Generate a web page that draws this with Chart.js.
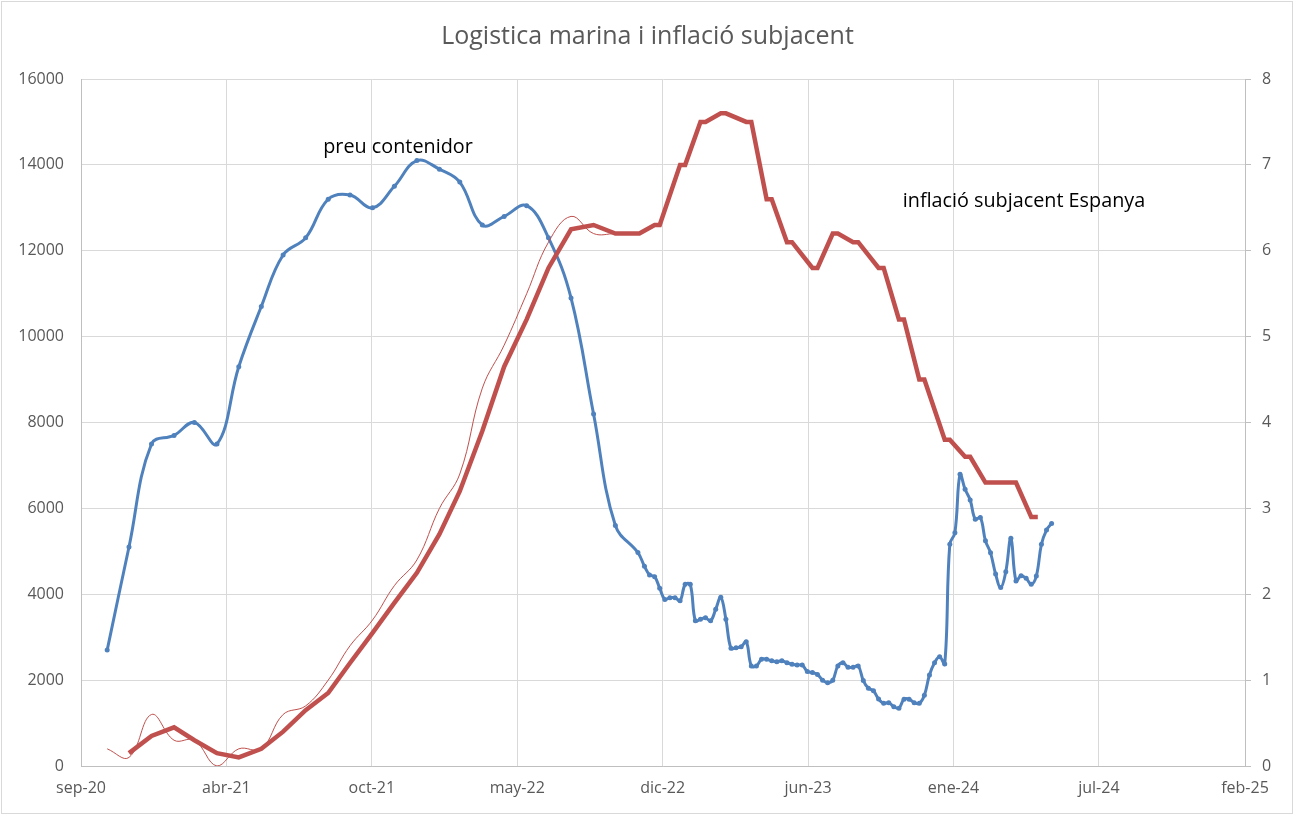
<!DOCTYPE html>
<html lang="ca">
<head>
<meta charset="utf-8">
<title>Logistica marina i inflació subjacent</title>
<script src="https://cdn.jsdelivr.net/npm/chart.js@4.4.1/dist/chart.umd.min.js"></script>
<style>
    html, body { margin: 0; padding: 0; background: #fff; }
    #wrap { width: 1295px; height: 816px; }
</style>
</head>
<body>
<div id="wrap"><canvas id="chart" width="1295" height="816"></canvas></div>
<script>
// Axis labels
const monthsEs = ['ene', 'feb', 'mar', 'abr', 'may', 'jun', 'jul', 'ago', 'sep', 'oct', 'nov', 'dic'];
const xTickDates = ['2020-09-26', '2021-04-14', '2021-10-31', '2022-05-19', '2022-12-05',
                    '2023-06-23', '2024-01-09', '2024-07-27', '2025-02-13'];

// Container price (left axis): monthly until Nov-22, then weekly
const containerDates = [
    '2020-11-01', '2020-12-01', '2021-01-01', '2021-02-01', '2021-03-01', '2021-04-01', '2021-05-01',
    '2021-06-01', '2021-07-01', '2021-08-01', '2021-09-01', '2021-10-01', '2021-11-01', '2021-12-01',
    '2022-01-01', '2022-02-01', '2022-03-01', '2022-04-01', '2022-05-01', '2022-06-01', '2022-07-01',
    '2022-08-01', '2022-09-01', '2022-10-01', '2022-11-01',
    '2022-11-10', '2022-11-17', '2022-11-24', '2022-12-01', '2022-12-08', '2022-12-15', '2022-12-22', '2022-12-29',
    '2023-01-05', '2023-01-12', '2023-01-19', '2023-01-26', '2023-02-02', '2023-02-09', '2023-02-16', '2023-02-23',
    '2023-03-02', '2023-03-09', '2023-03-16', '2023-03-23', '2023-03-30', '2023-04-06', '2023-04-13', '2023-04-20',
    '2023-04-27', '2023-05-04', '2023-05-11', '2023-05-18', '2023-05-25', '2023-06-01', '2023-06-08', '2023-06-15',
    '2023-06-22', '2023-06-29', '2023-07-06', '2023-07-13', '2023-07-20', '2023-07-27', '2023-08-03', '2023-08-10',
    '2023-08-17', '2023-08-24', '2023-08-31', '2023-09-07', '2023-09-14', '2023-09-21', '2023-09-28', '2023-10-05',
    '2023-10-12', '2023-10-19', '2023-10-26', '2023-11-02', '2023-11-09', '2023-11-16', '2023-11-23', '2023-11-30',
    '2023-12-07', '2023-12-14', '2023-12-21', '2023-12-28', '2024-01-04', '2024-01-11', '2024-01-18', '2024-01-25',
    '2024-02-01', '2024-02-08', '2024-02-15', '2024-02-22', '2024-02-29', '2024-03-07', '2024-03-14', '2024-03-21',
    '2024-03-28', '2024-04-04', '2024-04-11', '2024-04-18', '2024-04-25', '2024-05-02', '2024-05-09', '2024-05-16',
    '2024-05-23'
];
const containerPrice = [
    2700, 5100, 7500, 7700, 8000, 7500, 9300, 10700, 11900, 12300, 13200, 13300, 13000, 13500,
    14100, 13900, 13600, 12600, 12800, 13050, 12300, 10900, 8200, 5600, 4970,
    4650, 4450, 4410, 4140, 3880, 3920, 3920, 3850,
    4230, 4230, 3380, 3420, 3450, 3380, 3650, 3930,
    3420, 2740, 2755, 2780, 2895, 2330, 2330, 2485,
    2485, 2450, 2430, 2450, 2405, 2370, 2350, 2350,
    2200, 2175, 2130, 2000, 1940, 2000, 2330, 2405,
    2300, 2300, 2330, 1990, 1810, 1750, 1560, 1460,
    1475, 1380, 1345, 1555, 1555, 1475, 1460, 1650,
    2120, 2405, 2545, 2375, 5165, 5435, 6795, 6445,
    6195, 5745, 5790, 5245, 4965, 4470, 4155, 4525,
    5305, 4310, 4430, 4370, 4230, 4425, 5165, 5495,
    5650
];

// Core inflation Spain (right axis), thick line
const coreDates = [
    '2020-12-01', '2021-01-01', '2021-02-01', '2021-03-01', '2021-04-01', '2021-05-01', '2021-06-01',
    '2021-07-01', '2021-08-01', '2021-09-01', '2021-10-01', '2021-11-01', '2021-12-01', '2022-01-01',
    '2022-02-01', '2022-03-01', '2022-04-01', '2022-05-01', '2022-06-01', '2022-07-01', '2022-08-01',
    '2022-09-01', '2022-10-01', '2022-11-03', '2022-11-24', '2022-12-01', '2022-12-29', '2023-01-05',
    '2023-01-26', '2023-02-02', '2023-02-23', '2023-03-02', '2023-03-30', '2023-04-06', '2023-04-27',
    '2023-05-04', '2023-05-25', '2023-06-01', '2023-06-29', '2023-07-06', '2023-07-27', '2023-08-03',
    '2023-08-24', '2023-08-31', '2023-09-28', '2023-10-05', '2023-10-26', '2023-11-02', '2023-11-23',
    '2023-11-30', '2023-12-28', '2024-01-04', '2024-01-25', '2024-02-01', '2024-02-22', '2024-04-04',
    '2024-04-25', '2024-05-04'
];
const coreInflation = [
    0.15, 0.35, 0.45, 0.3, 0.15, 0.1, 0.2,
    0.4, 0.65, 0.85, 1.2, 1.55, 1.9, 2.25,
    2.7, 3.2, 3.9, 4.65, 5.2, 5.8, 6.25,
    6.3, 6.2, 6.2, 6.3, 6.3, 7.0, 7.0,
    7.5, 7.5, 7.6, 7.6, 7.5, 7.5, 6.6,
    6.6, 6.1, 6.1, 5.8, 5.8, 6.2, 6.2,
    6.1, 6.1, 5.8, 5.8, 5.2, 5.2, 4.5,
    4.5, 3.8, 3.8, 3.6, 3.6, 3.3, 3.3,
    2.9, 2.9
];

// Core inflation, monthly readings (thin line)
const coreMonthlyDates = [
    '2020-11-01', '2020-12-01', '2021-01-01', '2021-02-01', '2021-03-01', '2021-04-01', '2021-05-01',
    '2021-06-01', '2021-07-01', '2021-08-01', '2021-09-01', '2021-10-01', '2021-11-01', '2021-12-01',
    '2022-01-01', '2022-02-01', '2022-03-01', '2022-04-01', '2022-05-01', '2022-06-01', '2022-07-01',
    '2022-08-01', '2022-09-01', '2022-10-01'
];
const coreMonthly = [
    0.2, 0.1, 0.6, 0.3, 0.3, 0.0, 0.2,
    0.2, 0.6, 0.7, 1.0, 1.4, 1.7, 2.1,
    2.4, 3.0, 3.4, 4.4, 4.9, 5.5, 6.1,
    6.4, 6.2, 6.2
];

const chartTitle = 'Logistica marina i inflació subjacent';
const notes = [
    { text: 'preu contenidor', date: '2021-12-06', axis: 'y', value: 14400 },
    { text: 'inflació subjacent Espanya', date: '2024-04-15', axis: 'y2', value: 6.58 }
];

const FONT = '"Open Sans", sans-serif';
const GREY_TEXT = '#595959';

// Days since epoch, used as the x value
function dayNum(iso) {
    return Date.parse(iso) / 86400000;
}

function monthLabel(v) {
    const d = new Date(v * 86400000);
    return monthsEs[d.getUTCMonth()] + '-' + String(d.getUTCFullYear()).slice(2);
}

function toPoints(dates, values) {
    return dates.map((d, i) => ({ x: dayNum(d), y: values[i] }));
}

// Frame, title and in-chart labels
const textPlugin = {
    id: 'textPlugin',
    beforeDraw(chart) {
        const ctx = chart.ctx;
        ctx.save();
        ctx.fillStyle = '#fff';
        ctx.fillRect(0, 0, chart.width, chart.height);
        ctx.strokeStyle = '#D9D9D9';
        ctx.lineWidth = 1;
        ctx.strokeRect(1.5, 1.5, chart.width - 4, chart.height - 4);
        ctx.restore();
    },
    afterDraw(chart) {
        const ctx = chart.ctx;
        ctx.save();
        ctx.textAlign = 'center';
        ctx.textBaseline = 'middle';
        ctx.fillStyle = GREY_TEXT;
        ctx.font = '25px ' + FONT;
        ctx.fillText(chartTitle, chart.width / 2, 37);

        ctx.fillStyle = '#000';
        ctx.font = '19.8px ' + FONT;
        notes.forEach(n => {
            const x = chart.scales.x.getPixelForValue(dayNum(n.date));
            const y = chart.scales[n.axis].getPixelForValue(n.value);
            ctx.fillText(n.text, x, y);
        });
        ctx.restore();
    }
};

function drawChart() {
    Chart.defaults.font.family = FONT;

    new Chart(document.getElementById('chart'), {
        type: 'line',
        data: {
            datasets: [
                {
                    label: 'inflació subjacent Espanya',
                    data: toPoints(coreDates, coreInflation),
                    yAxisID: 'y2',
                    borderColor: '#C0504D',
                    borderWidth: 4.5,
                    pointRadius: 0,
                    tension: 0,
                    order: 0
                },
                {
                    label: 'inflació subjacent mensual',
                    data: toPoints(coreMonthlyDates, coreMonthly),
                    yAxisID: 'y2',
                    borderColor: '#C0504D',
                    borderWidth: 1,
                    pointRadius: 0,
                    tension: 0.4,
                    order: 1
                },
                {
                    label: 'preu contenidor',
                    data: toPoints(containerDates, containerPrice),
                    yAxisID: 'y',
                    borderColor: '#4F81BD',
                    backgroundColor: '#4F81BD',
                    borderWidth: 3,
                    pointRadius: 2.5,
                    pointBorderWidth: 0,
                    pointBackgroundColor: '#4F81BD',
                    tension: 0.4,
                    order: 2
                }
            ]
        },
        options: {
            responsive: false,
            animation: false,
            devicePixelRatio: 1,
            layout: { padding: { top: 79, left: 0, right: 0, bottom: 0 } },
            plugins: {
                legend: { display: false },
                tooltip: { enabled: false },
                title: { display: false }
            },
            scales: {
                x: {
                    type: 'linear',
                    min: dayNum(xTickDates[0]),
                    max: dayNum(xTickDates[xTickDates.length - 1]),
                    afterBuildTicks: scale => {
                        scale.ticks = xTickDates.map(d => ({ value: dayNum(d) }));
                    },
                    afterFit: scale => { scale.height = 50; },
                    ticks: {
                        callback: v => monthLabel(v),
                        color: GREY_TEXT,
                        font: { size: 16 },
                        padding: 13,
                        maxRotation: 0,
                        autoSkip: false
                    },
                    grid: { color: '#D9D9D9', lineWidth: 1, drawTicks: false },
                    border: { color: '#BFBFBF', width: 1 }
                },
                y: {
                    position: 'left',
                    min: 0,
                    max: 16000,
                    afterFit: scale => { scale.width = 81; },
                    ticks: {
                        stepSize: 2000,
                        callback: v => String(v),
                        color: GREY_TEXT,
                        font: { size: 16 },
                        padding: 17
                    },
                    grid: { color: '#D9D9D9', lineWidth: 1, drawTicks: false },
                    border: { color: '#BFBFBF', width: 1 }
                },
                y2: {
                    position: 'right',
                    min: 0,
                    max: 8,
                    afterFit: scale => { scale.width = 50; },
                    ticks: {
                        stepSize: 1,
                        callback: v => String(v),
                        color: GREY_TEXT,
                        font: { size: 16 },
                        padding: 11
                    },
                    grid: {
                        drawOnChartArea: false,
                        drawTicks: true,
                        tickLength: 6,
                        color: '#BFBFBF'
                    },
                    border: { color: '#BFBFBF', width: 1 }
                }
            }
        },
        plugins: [textPlugin]
    });
}

if (document.fonts && document.fonts.load) {
    document.fonts.load('16px "Open Sans"').then(drawChart, drawChart);
} else {
    drawChart();
}
</script>
</body>
</html>
